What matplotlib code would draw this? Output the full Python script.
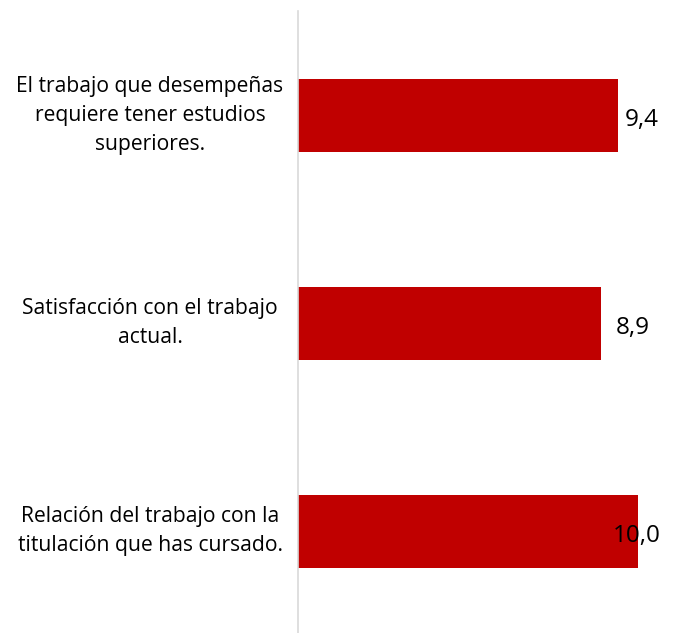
import matplotlib.pyplot as plt
from matplotlib import transforms

categories = [
    "El trabajo que desempeñas\nrequiere tener estudios\nsuperiores.",
    "Satisfacción con el trabajo\nactual.",
    "Relación del trabajo con la\ntitulación que has cursado.",
]
values = [9.4, 8.9, 10.0]
value_labels = ["9,4", "8,9", "10,0"]
label_shift = [7, 15, -25]  # px from bar end, as in the original

plt.rcParams['font.family'] = ['Open Sans', 'DejaVu Sans']

W, H = 673, 633
fig = plt.figure(figsize=(W / 100, H / 100), dpi=100)
ax = fig.add_axes([298 / W, 0, 1 - 298 / W, 1 - 11 / H])

y = list(range(len(values)))
ax.barh(y, values, height=0.35, color="#C00000")
ax.set_xlim(0, (W - 298) / 34)
ax.set_ylim(2.488, -0.502)

for s in ["top", "right", "bottom"]:
    ax.spines[s].set_visible(False)
ax.spines["left"].set_color("#D9D9D9")
ax.spines["left"].set_linewidth(1.2)
ax.set_xticks([])
ax.set_yticks([])

trans = transforms.blended_transform_factory(fig.transFigure, ax.transData)
for yi, cat in zip(y, categories):
    ax.text(150 / W, yi, cat, transform=trans, ha="center", va="center",
            multialignment="center", fontsize=15.2, linespacing=1.5)

for yi, v, lab, dx in zip(y, values, value_labels, label_shift):
    ax.annotate(lab, (v, yi), xytext=(dx * 0.72, -3.5), textcoords="offset points",
                ha="left", va="center", fontsize=17.5)

fig.savefig("out.png", dpi=100)
